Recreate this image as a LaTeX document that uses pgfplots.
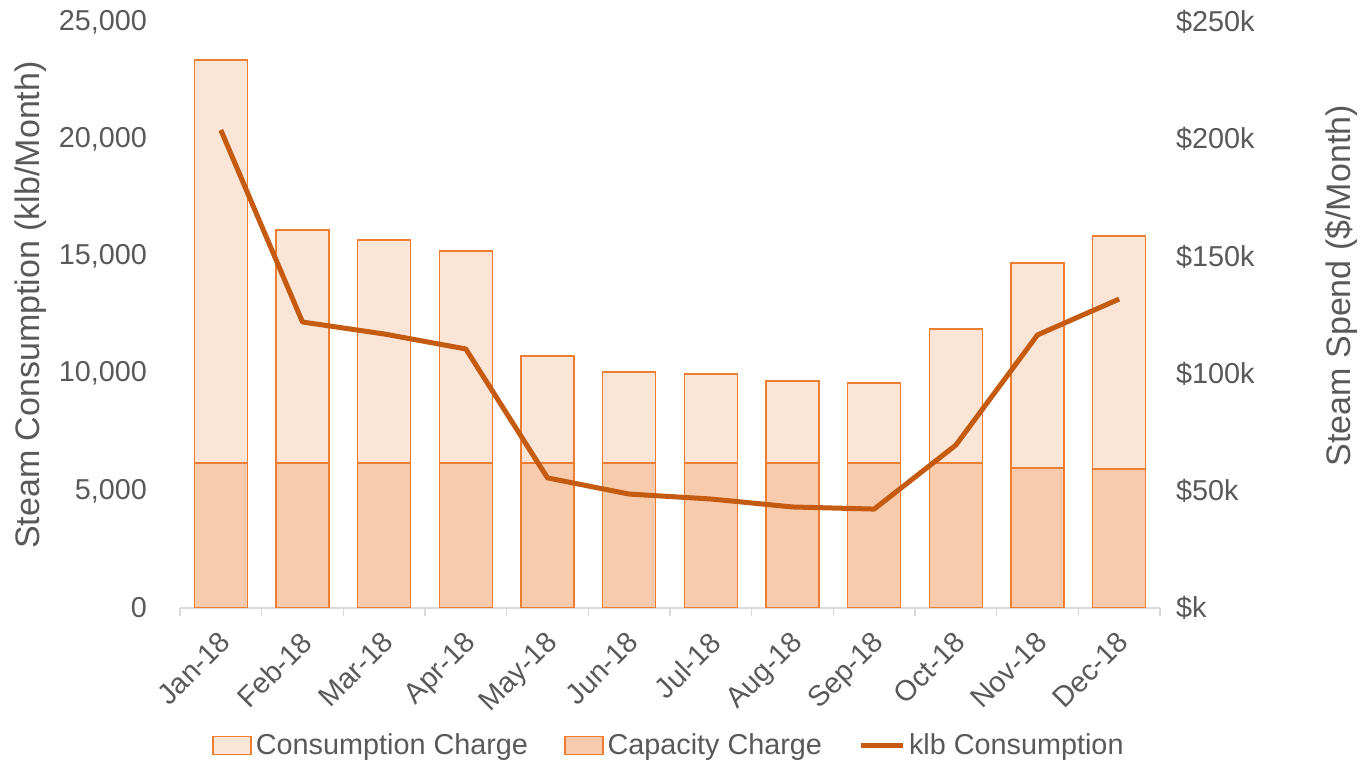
\documentclass[border=0pt]{standalone}
\usepackage{fontspec}
\setmainfont{Liberation Sans}
\usepackage{pgfplots}
\usepackage{pgfplotstable}
\pgfplotsset{compat=1.18}
\definecolor{edge}{HTML}{ED7D31}
\definecolor{capfill}{HTML}{F8CBAD}
\definecolor{consfill}{HTML}{FBE5D6}
\definecolor{linec}{HTML}{C55A11}
\definecolor{txt}{HTML}{595959}
\definecolor{axg}{HTML}{D9D9D9}

\pgfplotstableread{
x cap cons klb
0 61.9 171.9 20390
1 61.9 99.4 12200
2 61.9 95.1 11690
3 61.9 90.4 11050
4 61.9 45.6 5550
5 61.9 38.8 4860
6 61.9 37.9 4650
7 61.9 34.9 4310
8 61.9 34.1 4220
9 61.9 57.1 6950
10 59.7 87.5 11650
11 59.3 99.4 13180
}\data

\begin{document}
\begin{tikzpicture}[font=\fontsize{14.4}{17}\selectfont, text=txt]
\begin{axis}[
  at={(0,0)}, anchor=south west,
  scale only axis, width=490pt, height=293pt,
  xmin=-0.5, xmax=11.5, ymin=0, ymax=250,
  ybar stacked, bar width=26.5pt,
  axis x line*=bottom, axis y line*=right,
  x axis line style={draw=axg, line width=0.8pt, -},
  y axis line style={draw=none},
  xtick={0,...,11},
  xticklabels={Jan-18,Feb-18,Mar-18,Apr-18,May-18,Jun-18,Jul-18,Aug-18,Sep-18,Oct-18,Nov-18,Dec-18},
  minor xtick={-0.5,0.5,...,11.5},
  major tick length=0pt, minor tick length=4pt, tick align=outside,
  minor tick style={draw=axg, line width=0.8pt},
  xticklabel style={xshift=-1.6pt, yshift=-10.7pt, rotate=45, anchor=north east, inner sep=0pt, text=txt},
  ytick={0,50,100,150,200,250},
  yticklabels={\$k,\$50k,\$100k,\$150k,\$200k,\$250k},
  yticklabel style={text=txt, xshift=4.5pt},
  ylabel={Steam Spend (\$/Month)},
  ylabel style={at={(axis description cs:1.1847,0.55)}, anchor=center, font=\fontsize{17}{20}\selectfont, text=txt},
]
\addplot[fill=capfill, draw=edge, line width=0.75pt] table[x=x,y=cap]{\data};
\addplot[fill=consfill, draw=edge, line width=0.75pt] table[x=x,y=cons]{\data};
\end{axis}
\begin{axis}[
  at={(0,0)}, anchor=south west,
  scale only axis, width=490pt, height=293pt,
  xmin=-0.5, xmax=11.5, ymin=0, ymax=25000,
  axis y line*=left, hide x axis,
  y axis line style={draw=none},
  major tick length=0pt,
  ytick={0,5000,10000,15000,20000,25000},
  scaled y ticks=false,
  /pgf/number format/.cd, 1000 sep={,}, assume math mode=true, /pgfplots/.cd,
  yticklabel style={text=txt, xshift=-13pt},
  ylabel={Steam Consumption (klb/Month)},
  ylabel style={at={(axis description cs:-0.152,0.517)}, anchor=center, font=\fontsize{17}{20}\selectfont, text=txt},
  legend style={at={(0.5,-0.235)}, anchor=center, draw=none, fill=none, legend columns=3,
    /tikz/every even column/.append style={column sep=16pt}, font=\fontsize{14.4}{17}\selectfont, text=txt},
]
\addlegendimage{legend image code/.code={\draw[fill=consfill, draw=edge, line width=0.75pt] (0pt,-4.5pt) rectangle (19pt,4.5pt);}}
\addlegendentry{Consumption Charge}
\addlegendimage{legend image code/.code={\draw[fill=capfill, draw=edge, line width=0.75pt] (0pt,-4.5pt) rectangle (19pt,4.5pt);}}
\addlegendentry{Capacity Charge}
\addlegendimage{legend image code/.code={\draw[linec, line width=2.5pt] (0pt,0pt) -- (21pt,0pt);}}
\addlegendentry{klb Consumption}
\addplot[linec, line width=2.5pt, line join=round, mark=none, forget plot] table[x=x,y=klb]{\data};
\end{axis}
\pgfresetboundingbox
\path (-90pt,-78pt) rectangle (595pt,304pt);
\end{tikzpicture}
\end{document}
